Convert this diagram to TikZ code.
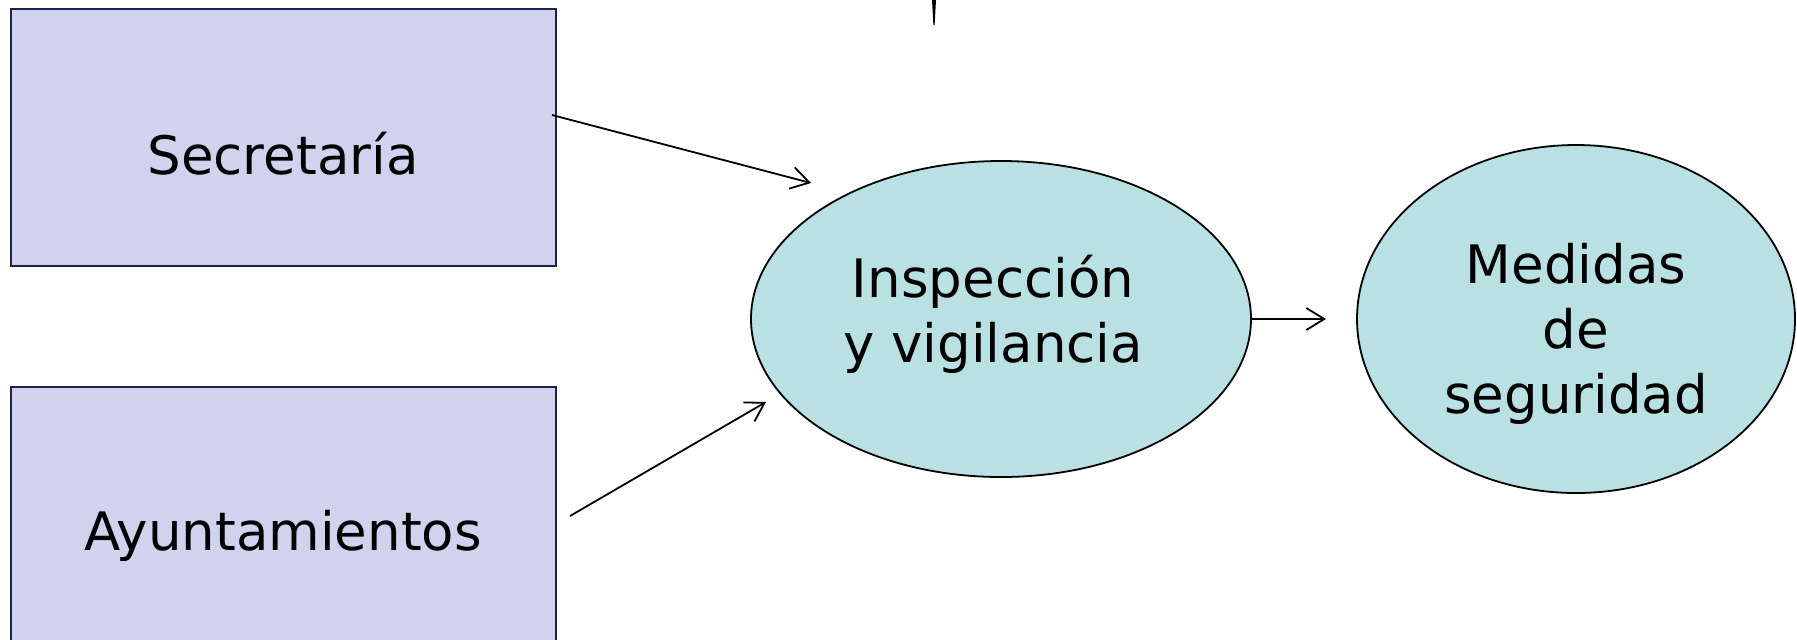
\documentclass[tikz,border=0pt]{standalone}
\usepackage{fontspec}
\setmainfont{DejaVu Sans}
\usetikzlibrary{arrows.meta,shapes.geometric}
\definecolor{boxfill}{HTML}{D0D2EE}
\definecolor{boxline}{HTML}{1E1E50}
\definecolor{ellfill}{HTML}{B9E0E3}
\tikzset{
  boxnode/.style={draw=boxline,fill=boxfill,line width=1pt,inner sep=0pt},
  ellnode/.style={ellipse,draw=black,fill=ellfill,line width=0.9pt,inner sep=0pt},
  lbl/.style={font=\fontsize{26.5pt}{32.5pt}\selectfont,align=center,inner sep=0pt},
  conn/.style={line width=0.9pt,-{Straight Barb[length=9pt,width=11pt,line width=0.9pt]}}
}
\begin{document}
\begin{tikzpicture}[x=0.5pt,y=-0.5pt]
\useasboundingbox (0,0) rectangle (1797,639);
\clip (0,0) rectangle (1797,639);
% boxes
\node[boxnode,minimum width=272.5pt,minimum height=128.5pt] (sec) at (283.5,137.5) {};
\node[boxnode,minimum width=272.5pt,minimum height=146pt] (ayu) at (283.5,533) {};
\node[lbl] (sect) at (283,154) {Secretaría};
\node[lbl] (ayut) at (283,536) {Ayuntamientos};
% ellipses
\node[ellnode,minimum width=250pt,minimum height=158pt] (insp) at (1001,319) {};
\node[ellnode,minimum width=219pt,minimum height=174pt] (med) at (1576,319) {};
\node[lbl] (inspt) at (993,314) {Inspección\\y vigilancia};
\node[lbl] (medt) at (1576,334) {Medidas\\de\\seguridad};
% connector ends
\coordinate (a1s) at (552,115);
\coordinate (a1e) at (811,183);
\coordinate (a2s) at (570,516);
\coordinate (a2e) at (766,402);
\coordinate (a3e) at (1326,319);
\draw[conn] (a1s) -- (a1e);
\draw[conn] (a2s) -- (a2e);
\draw[conn] (insp.east) -- (a3e);
% top mark
\fill[black] (932,0) -- (936,0) -- (934.6,25) -- (933.4,25) -- cycle;
\end{tikzpicture}
\end{document}
